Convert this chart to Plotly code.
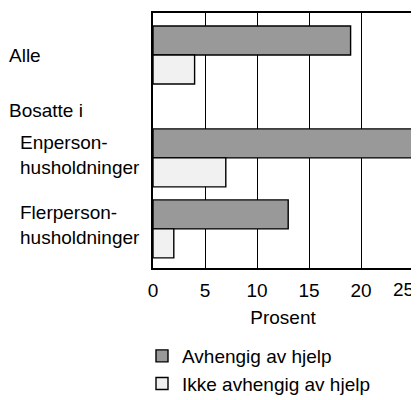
import plotly.graph_objects as go

# Data
groups = ["Alle", "Enperson-<br>husholdninger", "Flerperson-<br>husholdninger"]
avhengig = [19, 25, 13]
ikke_avhengig = [4, 7, 2]
series_names = ["Avhengig av hjelp", "Ikke avhengig av hjelp"]
x_ticks = [0, 5, 10, 15, 20, 25]
x_tick_labels = ["0", "5", "10", "15", "20", "25"]
x_title = "Prosent"
section_label = "Bosatte i"

# Layout (row centres on a numeric axis, one unit = one bar thickness)
row_pos = [1.45, 5.0, 7.45]
row_label_shift = [0, 3, 4]
section_pos = 3.35
y_range = [8.8, 0]

OFF = 8  # page body margin of the html page
W, H = 419 - OFF, 400 - OFF
PLOT_L, PLOT_R, PLOT_T, PLOT_B = 153, 413, 13, 268   # in screenshot pixels
ML, MT = PLOT_L - OFF, PLOT_T - OFF
MR = W - (PLOT_R - OFF)
MB = H - (PLOT_B - OFF)
PW = PLOT_R - PLOT_L

FONT = "Liberation Sans, Arial, Helvetica, sans-serif"
FS = 19

def px_to_paper_x(px):
    return (px - PLOT_L) / PW

# the last tick label is drawn pulled inside the window, as in the reference
tick_text = x_tick_labels[:-1] + [""]

fig = go.Figure()
fig.add_trace(go.Bar(
    x=avhengig, y=row_pos, orientation="h", name=series_names[0],
    width=1, offset=-1,
    marker=dict(color="#888888", line=dict(color="black", width=1.4),
                pattern=dict(shape=".", fgcolor="#1a1a1a", bgcolor="#bdbdbd",
                             size=2, solidity=0.5)),
))
fig.add_trace(go.Bar(
    x=ikke_avhengig, y=row_pos, orientation="h", name=series_names[1],
    width=1, offset=0,
    marker=dict(color="#e4e4e4", line=dict(color="black", width=1.4),
                pattern=dict(shape=".", fgcolor="#b0b0b0", bgcolor="white",
                             size=2, solidity=0.4)),
))

annotations = []
for lab, p, xpx, ys in zip(groups, row_pos, [7, 18, 18], row_label_shift):
    annotations.append(dict(text=lab, x=px_to_paper_x(xpx), xref="paper", y=p, yref="y",
                            xanchor="left", yanchor="middle", showarrow=False, yshift=ys,
                            align="left", font=dict(size=FS, family=FONT, color="black")))
annotations.append(dict(text=section_label, x=px_to_paper_x(7), xref="paper", y=section_pos, yref="y",
                        xanchor="left", yanchor="middle", showarrow=False,
                        align="left", font=dict(size=FS, family=FONT, color="black")))
annotations.append(dict(text=x_tick_labels[-1], x=px_to_paper_x(416), xref="paper", y=0, yref="paper",
                        xanchor="right", yanchor="middle", yshift=-(289 - PLOT_B), showarrow=False,
                        font=dict(size=FS, family=FONT, color="black")))

fig.update_layout(
    width=W, height=H,
    margin=dict(l=ML, r=MR, t=MT, b=MB, autoexpand=False),
    paper_bgcolor="white", plot_bgcolor="white",
    barmode="overlay",
    showlegend=True,
    font=dict(family=FONT, size=FS, color="black"),
    legend=dict(x=px_to_paper_x(142), xref="paper", y=1 - (337 - OFF) / H, yref="container",
                xanchor="left", yanchor="top",
                orientation="v", traceorder="normal", tracegroupgap=0,
                font=dict(size=FS, family=FONT, color="black"),
                itemwidth=30, bgcolor="rgba(0,0,0,0)"),
    xaxis=dict(range=[0, 25], tickvals=x_ticks, ticktext=tick_text, showgrid=True,
               gridcolor="black", gridwidth=1.3, zeroline=False, showline=True,
               linecolor="black", linewidth=1.5, mirror=True, ticks="outside", ticklen=4,
               tickcolor="rgba(0,0,0,0)", ticklabeloverflow="allow",
               automargin=False,
               title=dict(text=x_title, standoff=11, font=dict(size=FS)),
               tickfont=dict(size=FS)),
    yaxis=dict(range=y_range, showticklabels=False, showgrid=False, zeroline=False,
               showline=True, linecolor="black", linewidth=1.5, mirror=True, ticks="",
               automargin=False),
    annotations=annotations,
)

fig.write_html("out.html")
